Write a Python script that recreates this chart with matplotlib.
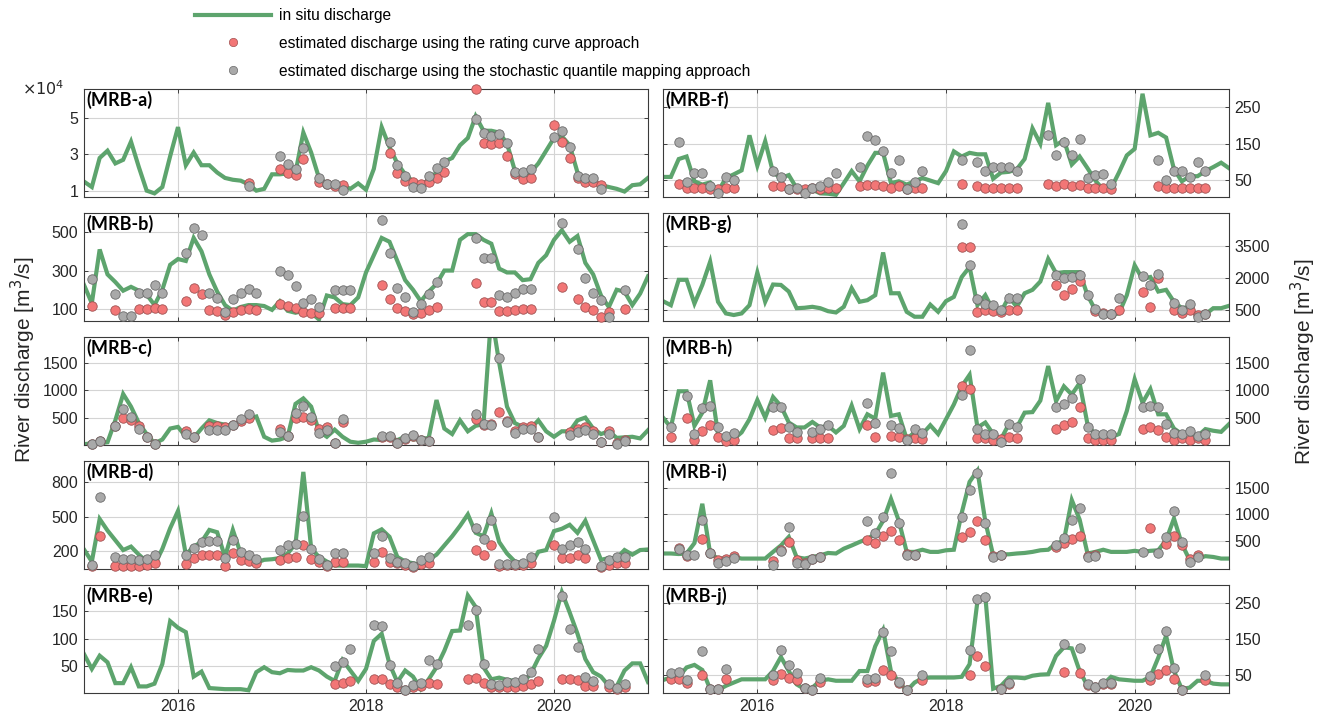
import numpy as np
import matplotlib
matplotlib.use("Agg")
from matplotlib import pyplot as plt
from matplotlib.lines import Line2D

plt.rcParams['font.family'] = ['Liberation Sans', 'DejaVu Sans']

nan = np.nan
# monthly series, Jan 2015 .. Jan 2021
months = np.arange(73)
t = 2015 + months / 12

# ---- MRB-a (x 1e4 m3/s) ----
a_line = [1.5,1.2,2.8,3.2,2.5,2.7,3.7,2.3,1.0,0.85,1.2,2.9,4.5,2.4,3.1,2.4,2.4,2.0,1.7,1.6,
          1.55,1.35,1.0,1.1,1.9,1.9,1.95,2.0,4.2,3.1,1.7,1.4,1.35,1.3,1.1,1.4,1.05,2.2,4.5,3.4,
          2.5,1.9,1.5,1.3,1.6,2.0,2.6,2.8,3.5,3.9,5.1,4.3,4.3,4.2,3.6,2.1,1.9,2.0,2.5,3.2,
          3.9,4.0,3.5,2.0,1.6,1.5,1.3,1.2,1.1,0.95,1.3,1.35,1.7]
a_m = [21,25,26,27,28,30,31,32,33,39,40,41,42,43,44,45,46,50,51,52,53,54,55,56,57,60,61,62,63,64,65,66]
a_red = [1.41,2.2,1.97,1.86,2.72,1.5,1.35,1.25,1.32,3.06,1.97,1.54,1.47,1.37,1.5,1.7,2.0,
         6.6,3.65,3.55,3.6,2.9,1.9,1.65,1.7,4.64,3.7,2.8,1.7,1.5,1.5,1.3]
a_grey = [1.26,2.9,2.48,2.2,3.37,1.69,1.35,1.35,1.04,3.7,2.44,1.78,1.22,1.15,1.78,2.25,2.6,
          4.96,4.18,4.0,4.1,3.6,2.0,2.0,2.2,3.97,4.3,3.43,1.8,1.7,1.7,1.1]

# ---- MRB-b ----
b_line = [225,130,410,280,240,195,215,195,175,120,200,330,360,350,470,400,280,190,120,90,
          110,120,120,115,95,140,90,80,90,80,45,170,160,125,120,160,290,380,470,450,
          350,250,200,140,190,230,300,300,460,490,490,460,440,310,290,290,250,255,340,380,
          460,510,450,480,340,280,170,110,200,190,120,180,270]
b_m = [1,4,5,6,7,8,9,10,13,14,15,16,17,18,19,20,21,22,25,26,27,28,29,30,32,33,34,
       38,39,40,41,42,43,44,45,50,51,52,53,54,55,56,57,61,63,64,65,66,67,69]
b_red = [117,95,nan,nan,100,100,105,100,143,208,178,95,90,69,85,95,100,95,124,115,105,85,80,77,
         105,105,105,225,150,105,90,72,80,95,110,237,138,138,90,90,95,100,100,216,150,110,95,60,85,100]
b_grey = [255,177,65,62,185,185,225,185,390,524,486,185,159,83,150,182,203,185,298,277,222,130,152,112,
          200,200,200,564,390,211,164,86,128,177,239,469,368,368,173,160,182,203,203,550,411,263,185,145,60,200]

# ---- MRB-c ----
c_line = [15,30,30,50,450,930,700,400,200,30,100,300,330,150,130,300,450,400,370,350,
          400,480,520,150,80,100,150,750,850,700,250,150,280,150,60,40,60,100,90,120,
          90,150,100,110,130,820,300,200,450,250,350,380,2400,1500,700,400,330,300,450,250,
          150,250,250,450,500,300,200,250,130,140,150,120,270]
c_m = [1,2,4,5,6,7,8,9,13,14,16,17,18,19,20,21,25,26,27,28,29,30,31,32,33,
       38,39,40,41,42,43,44,50,51,52,53,54,55,56,57,58,62,63,64,65,66,67,68,69]
c_red = [20,70,350,500,450,340,150,20,260,150,340,340,320,370,440,490,300,170,490,510,450,300,320,40,420,
         140,150,30,110,170,90,70,480,370,380,610,430,260,330,340,140,230,300,320,260,60,250,30,100]
c_grey = [20,80,340,655,510,300,150,20,200,140,280,280,280,370,470,560,230,170,590,720,510,220,280,40,480,
          160,160,30,120,180,90,70,560,380,370,1580,420,220,300,300,140,190,230,280,200,60,200,20,80]

# ---- MRB-d ----
d_line = [215,110,480,380,295,210,240,170,110,80,220,400,550,170,240,280,385,365,150,385,
          180,140,100,125,130,140,180,265,890,225,150,110,75,75,75,75,70,355,390,325,
          150,110,95,80,125,170,250,330,420,520,360,330,530,280,180,110,95,70,195,210,
          375,395,430,360,465,295,125,140,140,210,170,210,215]
d_m = [1,2,4,5,6,7,8,9,13,14,15,16,17,18,19,20,21,22,25,26,27,28,29,30,31,32,33,
       37,38,39,40,41,42,43,44,50,51,52,53,54,55,56,57,60,61,62,63,64,66,67,68,69]
d_red = [70,335,75,75,75,70,80,95,90,140,170,170,170,75,180,125,115,100,120,140,150,250,130,110,75,105,105,
         105,190,110,95,80,65,90,100,210,170,255,75,80,80,80,95,250,140,145,165,140,60,80,95,95]
d_grey = [80,670,150,130,130,120,130,170,170,230,280,285,285,140,300,190,165,135,210,250,260,510,215,130,80,185,185,
          185,330,145,110,95,70,125,150,400,310,470,85,90,90,100,150,500,220,250,280,220,75,125,150,150]

# ---- MRB-e ----
e_line = [72,45,69,57,19,19,48,13,13,18,54,132,120,112,31,40,10,9,8,8,
          8,6,39,48,39,37,43,42,42,48,42,31,23,61,42,23,45,96,109,54,
          21,42,31,8,26,48,78,114,115,179,158,48,26,29,25,23,21,35,64,87,
          133,185,148,109,63,39,31,14,13,42,55,55,21]
e_m = [32,33,34,37,38,39,40,41,42,43,44,45,49,50,51,52,53,54,55,56,57,58,61,62,63,64,65,67,68,69]
e_red = [17,20,23,26,26,17,12,7,12,13,20,17,27,28,20,12,12,12,12,14,17,23,27,26,24,14,14,12,9,12]
e_grey = [50,57,81,125,123,52,20,7,16,19,62,53,125,153,53,17,16,21,21,27,40,82,178,118,84,30,23,18,10,17]

# ---- MRB-f ----
f_line = [59,59,108,115,47,38,44,19,56,66,77,173,90,157,71,56,64,28,26,24,
          14,13,10,42,75,47,90,125,125,42,47,38,47,56,49,42,75,129,115,125,
          121,121,54,71,73,80,108,192,150,262,146,160,93,115,83,49,24,28,71,118,
          136,287,173,180,167,80,47,61,61,75,86,98,83]
f_m = [2,3,4,5,6,7,8,9,14,15,16,17,18,19,20,21,22,25,26,27,28,29,30,31,32,33,38,
       40,41,42,43,44,45,49,50,51,52,53,54,55,56,57,63,64,65,66,67,68,69]
f_red = [40,30,30,30,25,25,30,30,35,35,25,25,25,30,25,30,30,35,38,37,35,30,35,25,30,30,40,
         35,30,30,30,30,30,40,35,40,35,38,30,30,30,25,35,30,30,30,30,30,30]
f_grey = [155,45,70,70,35,15,60,50,75,60,25,30,15,30,35,45,70,85,170,160,130,70,105,25,45,75,105,
          100,75,85,85,85,75,175,118,155,118,162,55,65,68,40,105,50,75,75,60,100,75]

# ---- MRB-g ----
g_line = [920,730,1920,1920,810,1680,2770,890,345,270,345,730,2260,890,1700,1680,1370,590,610,655,
          590,450,390,655,1525,890,965,1200,3200,1290,1290,420,190,190,760,420,920,1120,2050,2520,
          730,1200,500,420,1120,655,1290,1450,1840,2900,2230,2280,2280,2280,1200,500,270,270,345,1200,
          2600,1950,2050,1370,1450,890,590,655,190,300,590,590,700]
g_m = [38,39,40,41,42,43,44,45,50,51,52,53,54,55,56,57,58,61,62,63,65,66,67,68,69]
g_red = [3450,3480,420,500,450,420,500,500,1690,1200,1500,1850,nan,450,350,320,500,1370,655,2000,500,380,500,250,300]
g_grey = [4540,2600,1000,800,730,500,1050,1050,2130,2010,2050,2150,1200,550,300,300,1050,2090,1680,2200,850,500,800,200,300]

# ---- MRB-h ----
h_line = [500,320,980,980,350,590,1180,200,80,110,230,470,820,500,875,710,410,320,320,420,
          320,350,230,350,720,290,560,480,1320,530,560,110,230,200,360,200,470,740,1070,1280,
          320,410,200,110,380,320,590,600,810,1440,800,1070,920,1130,380,180,140,140,200,620,
          1200,770,1020,560,560,300,200,230,160,290,260,240,380]
h_m = [1,3,4,5,6,7,8,9,14,15,16,17,19,20,21,26,27,29,30,31,32,33,38,39,40,41,42,43,44,45,
       50,51,52,53,54,55,56,57,61,62,63,64,65,66,67,68,69]
h_red = [140,500,100,260,370,140,70,100,270,310,120,120,120,130,130,370,140,160,140,110,120,110,
         1080,1020,120,120,100,110,140,120,300,360,420,700,120,100,100,100,300,330,280,140,100,120,100,120,100]
h_grey = [330,900,200,680,720,330,160,220,690,700,330,240,240,300,370,760,400,370,310,100,300,220,
          920,1740,300,200,200,50,380,320,700,740,850,1210,330,200,200,200,690,720,690,380,220,200,260,160,200]

# ---- MRB-i ----
i_line = [270,270,260,270,465,1200,270,175,175,205,175,175,175,175,300,420,580,200,175,205,
          235,280,270,360,420,485,545,635,880,1290,880,300,300,340,300,300,330,340,1030,1610,
          1820,870,235,255,255,270,280,300,330,340,450,515,1270,905,270,300,340,300,300,300,
          320,300,320,330,520,925,450,145,175,220,205,175,175]
i_m = [2,3,4,5,6,7,8,9,14,15,16,17,18,19,20,26,27,28,29,30,31,32,38,39,40,41,42,43,
       50,51,52,53,54,55,61,62,63,64,65,66,67,68]
i_red = [380,230,nan,540,280,140,160,220,130,330,480,150,100,170,210,530,470,590,700,530,260,250,
         580,680,870,520,220,250,400,460,550,600,230,250,nan,740,nan,440,590,430,160,240]
i_grey = [360,240,250,900,270,100,130,190,50,310,760,100,80,160,200,870,650,960,1780,840,250,250,
          960,1450,1770,840,200,240,430,560,890,1120,200,230,300,nan,270,570,1060,480,120,200]

# ---- MRB-j ----
j_line = [36,43,45,71,78,64,11,8,20,29,38,38,38,38,61,100,61,24,11,15,
          34,38,34,34,34,61,61,130,175,60,31,6,29,41,43,43,43,43,45,80,
          255,270,12,20,43,43,41,48,51,52,103,127,124,61,20,20,24,45,38,36,
          34,34,45,98,159,61,11,15,34,34,26,24,24]
j_m = [1,2,3,5,6,7,8,14,15,16,17,18,19,20,26,27,28,29,30,31,33,39,40,41,43,44,51,53,54,55,56,57,
       62,63,64,65,66,69]
j_red = [38,38,28,50,12,10,38,35,52,42,35,14,8,30,30,32,65,50,28,8,35,50,103,75,10,25,57,55,22,18,25,25,
         35,52,65,38,8,35]
j_grey = [55,58,35,118,12,10,68,50,120,77,55,14,8,42,38,42,170,118,30,8,50,120,260,268,10,28,135,125,25,18,28,28,
          48,122,172,70,8,50]

panels = [
    ("(MRB-a)", a_line, a_m, a_red, a_grey, (0.65, 6.6), [1, 3, 5]),
    ("(MRB-b)", b_line, b_m, b_red, b_grey, (37, 600), [100, 300, 500]),
    ("(MRB-c)", c_line, c_m, c_red, c_grey, (0, 1970), [500, 1000, 1500]),
    ("(MRB-d)", d_line, d_m, d_red, d_grey, (45, 985), [200, 500, 800]),
    ("(MRB-e)", e_line, e_m, e_red, e_grey, (1, 198), [50, 100, 150]),
    ("(MRB-f)", f_line, f_m, f_red, f_grey, (4, 300), [50, 150, 250]),
    ("(MRB-g)", g_line, g_m, g_red, g_grey, (-10, 5050), [500, 2000, 3500]),
    ("(MRB-h)", h_line, h_m, h_red, h_grey, (0, 1970), [500, 1000, 1500]),
    ("(MRB-i)", i_line, i_m, i_red, i_grey, (-20, 2000), [500, 1000, 1500]),
    ("(MRB-j)", j_line, j_m, j_red, j_grey, (0, 300), [50, 150, 250]),
]

GREEN = '#5da46d'
RED_F, RED_E = '#f27676', '#a05252'
GREY_F, GREY_E = '#a9a9a9', '#6a6a6a'
FS = 11.5

W, H = 1326, 719
fig = plt.figure(figsize=(W / 100, H / 100), dpi=100)

col_x = [(84, 648), (663, 1229)]
row_top = [89, 213, 337, 461, 585]
row_h = 108

for k, (lab, line, pm, red, grey, ylim, yt) in enumerate(panels):
    col, row = divmod(k, 5)
    x0, x1 = col_x[col]
    y0 = row_top[row]
    ax = fig.add_axes([x0 / W, 1 - (y0 + row_h) / H, (x1 - x0) / W, row_h / H])
    tp = 2015 + np.array(pm) / 12
    ax.plot(t, line, color=GREEN, lw=3, zorder=2, solid_joinstyle='miter')
    ax.plot(tp, red, 'o', ms=6.8, mfc=RED_F, mec=RED_E, mew=0.6, zorder=3, clip_on=False)
    ax.plot(tp, grey, 'o', ms=6.8, mfc=GREY_F, mec=GREY_E, mew=0.6, zorder=4, clip_on=False)
    ax.set_xlim(2015, 2021)
    ax.set_ylim(*ylim)
    ax.set_xticks([2016, 2018, 2020])
    ax.set_yticks(yt)
    ax.set_yticklabels([str(v) for v in yt])
    ax.grid(True, color='#d4d4d4', lw=0.8)
    ax.set_axisbelow(True)
    for s in ax.spines.values():
        s.set_color('#3a3a3a')
        s.set_linewidth(0.8)
    ax.tick_params(direction='in', length=3, width=0.6, labelsize=FS, colors='#262626',
                   top=True, right=True, pad=4)
    if col == 1:
        ax.tick_params(labelleft=False, labelright=True)
    if row < 4:
        ax.tick_params(labelbottom=False)
    ax.text(0.004, 0.985, lab, transform=ax.transAxes, ha='left', va='top',
            fontsize=13, fontweight='bold', family='Lato', color='black', zorder=5)

# exponent of panel a
fig.text(22 / W, 1 - 89 / H, r'$\times10^{4}$', fontsize=FS, color='#262626', va='center', ha='left')

# axis labels
fig.text(23 / W, 1 - 360 / H, r'River discharge [m$^3$/s]', rotation=90, fontsize=15,
         ha='center', va='center', color='#262626')
fig.text(1303 / W, 1 - 362 / H, r'River discharge [m$^3$/s]', rotation=90, fontsize=15,
         ha='center', va='center', color='#262626')

# legend
handles = [
    Line2D([], [], color=GREEN, lw=3),
    Line2D([], [], ls='none', marker='o', ms=6, mfc=RED_F, mec=RED_E, mew=0.5),
    Line2D([], [], ls='none', marker='o', ms=6, mfc=GREY_F, mec=GREY_E, mew=0.5),
]
labels = ['in situ discharge',
          'estimated discharge using the rating curve approach',
          'estimated discharge using the stochastic quantile mapping approach']
fig.legend(handles, labels, loc='upper left', bbox_to_anchor=(195 / W, 1 - 8 / H),
           frameon=False, fontsize=11.2, handlelength=4.9, handletextpad=0.5,
           labelspacing=0.82, borderpad=0, borderaxespad=0)

fig.savefig('out.png', dpi=100)
